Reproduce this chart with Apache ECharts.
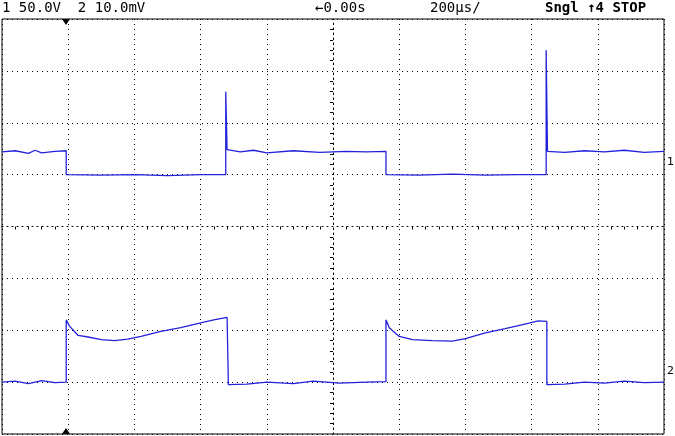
<!DOCTYPE html>
<html>
<head>
<meta charset="utf-8">
<script src="https://cdn.jsdelivr.net/npm/echarts@6/dist/echarts.min.js"></script>
<style>html,body{margin:0;padding:0;background:#fff}#c{width:675px;height:436px}</style>
</head>
<body>
<div id="c"></div>
<script>
// time in divisions (-5..5), voltage in divisions (-4..4)
var ch1 = [
  [-5,1.44],[-4.8,1.46],[-4.6,1.41],[-4.5,1.47],[-4.4,1.42],[-4.2,1.45],[-4.03,1.46],
  [-4.03,1.0],[-3.5,0.99],[-3.0,1.0],[-2.5,0.98],[-2.0,1.0],[-1.62,1.0],
  [-1.62,2.6],[-1.6,1.48],[-1.4,1.44],[-1.2,1.47],[-1.0,1.42],[-0.6,1.46],[-0.2,1.43],[0.2,1.45],[0.5,1.44],[0.8,1.45],
  [0.8,1.0],[1.3,0.99],[1.8,1.01],[2.3,0.99],[2.8,1.0],[3.22,1.0],
  [3.22,3.4],[3.24,1.45],[3.5,1.43],[3.8,1.46],[4.1,1.44],[4.4,1.47],[4.7,1.43],[5,1.45]
];
var ch2 = [
  [-5,-3.0],[-4.8,-2.98],[-4.6,-3.03],[-4.4,-2.97],[-4.2,-3.01],[-4.03,-3.0],
  [-4.03,-1.8],[-3.98,-1.92],[-3.85,-2.1],[-3.7,-2.13],[-3.5,-2.18],[-3.3,-2.2],[-3.1,-2.17],[-2.9,-2.12],
  [-2.6,-2.02],[-2.3,-1.95],[-2.0,-1.86],[-1.8,-1.8],[-1.6,-1.75],[-1.58,-1.77],
  [-1.58,-3.05],[-1.3,-3.04],[-1.0,-3.0],[-0.6,-3.03],[-0.3,-2.98],[0.1,-3.02],[0.5,-3.0],[0.8,-2.99],
  [0.8,-1.8],[0.85,-1.95],[1.0,-2.12],[1.2,-2.18],[1.5,-2.2],[1.8,-2.21],[2.0,-2.16],
  [2.3,-2.05],[2.6,-1.97],[2.9,-1.88],[3.1,-1.82],[3.23,-1.83],
  [3.23,-3.05],[3.5,-3.04],[3.8,-3.0],[4.1,-3.02],[4.4,-2.98],[4.7,-3.01],[5,-3.0]
];
var header = ['1 50.0V  2 10.0mV', '\u21900.00s', '200\u00b5s/', 'Sngl \u21914 STOP'];

var chart = echarts.init(document.getElementById('c'));
var dotted = {color:'#000', type:[1,4], width:1};
chart.setOption({
  animation:false,
  grid:{left:2, right:11, top:19, bottom:2, show:true, borderColor:'#000', borderWidth:1},
  xAxis:{type:'value', min:-5, max:5, interval:1,
    axisLabel:{show:false}, axisTick:{show:false},
    axisLine:{show:true, onZero:true, lineStyle:dotted},
    minorTick:{show:true, splitNumber:5, length:3, lineStyle:{color:'#000'}},
    splitLine:{show:true, lineStyle:dotted}},
  yAxis:{type:'value', min:-4, max:4, interval:1,
    axisLabel:{show:false}, axisTick:{show:false},
    axisLine:{show:true, onZero:true, lineStyle:dotted},
    minorTick:{show:true, splitNumber:5, length:3, lineStyle:{color:'#000'}},
    splitLine:{show:true, lineStyle:dotted}},
  series:[
    {type:'line', data:ch1, showSymbol:false, lineStyle:{color:'#2222dd', width:1.3}},
    {type:'line', data:ch2, showSymbol:false, lineStyle:{color:'#2222dd', width:1.3}}
  ],
  graphic:[
    {type:'text', left:2, top:1, style:{text:header[0], font:'14px "DejaVu Sans Mono"', fill:'#000'}},
    {type:'text', left:315, top:1, style:{text:header[1], font:'14px "DejaVu Sans Mono"', fill:'#000'}},
    {type:'text', left:430, top:1, style:{text:header[2], font:'14px "DejaVu Sans Mono"', fill:'#000'}},
    {type:'text', left:545, top:1, style:{text:header[3], font:'bold 14px "DejaVu Sans Mono"', fill:'#000'}},
    {type:'polygon', shape:{points:[[62,19],[70,19],[66,25]]}, style:{fill:'#000'}},
    {type:'polygon', shape:{points:[[62,434],[70,434],[66,428]]}, style:{fill:'#000'}},
    {type:'text', left:667, top:157, style:{text:'1', font:'11px "DejaVu Sans"', fill:'#000'}},
    {type:'text', left:667, top:366, style:{text:'2', font:'11px "DejaVu Sans"', fill:'#000'}}
  ]
});
</script>
</body>
</html>
